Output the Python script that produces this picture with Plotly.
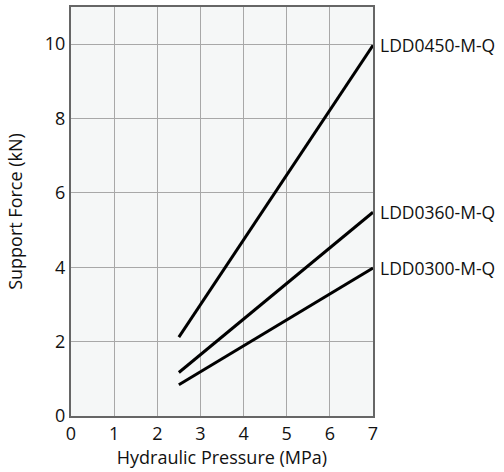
import plotly.graph_objects as go

series_names = ["LDD0450-M-Q", "LDD0360-M-Q", "LDD0300-M-Q"]
pressure = [2.5, 7]
force_0450 = [2.12, 9.97]
force_0360 = [1.17, 5.48]
force_0300 = [0.84, 3.98]
x_ticks = [0, 1, 2, 3, 4, 5, 6, 7]
y_ticks = [0, 2, 4, 6, 8, 10]

FONT = "Open Sans"
FS = 18
fig = go.Figure()
for name, ys in zip(series_names, [force_0450, force_0360, force_0300]):
    fig.add_trace(go.Scatter(x=pressure, y=ys, mode="lines", name=name,
                             line=dict(color="black", width=3), showlegend=False))
    fig.add_annotation(x=pressure[-1], y=ys[-1], xref="x", yref="y", text=name,
                       showarrow=False, xanchor="left", yanchor="middle", xshift=5,
                       font=dict(family=FONT, size=17.5, color="#111"))

axis_common = dict(showgrid=True, gridcolor="#a8a8a8", gridwidth=1, automargin=False,
                   showline=True, linecolor="#666", linewidth=2, mirror=True,
                   zeroline=False, ticks="", tickfont=dict(family=FONT, size=FS, color="#111"))
fig.update_xaxes(range=[0, 7], tickvals=x_ticks, title=dict(text="Hydraulic Pressure (MPa)",
                 font=dict(family=FONT, size=18, color="#111"), standoff=4), **axis_common)
fig.update_yaxes(range=[0, 11], tickvals=y_ticks, title=dict(text="Support Force (kN)",
                 font=dict(family=FONT, size=18, color="#111"), standoff=18), **axis_common)
fig.update_layout(width=504, height=472, margin=dict(l=71, r=131, t=7, b=56),
                  plot_bgcolor="#f5f7f7", paper_bgcolor="white")
fig.write_html("out.html", config={"displayModeBar": False},
               post_script="document.body.style.margin='0';")
